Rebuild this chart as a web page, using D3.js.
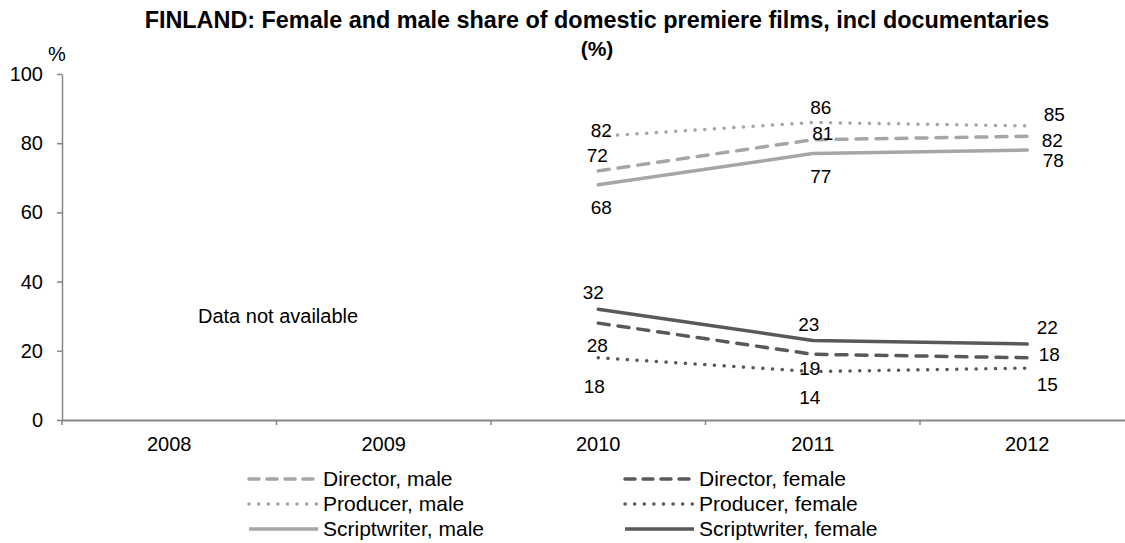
<!DOCTYPE html>
<html lang="en">
<head>
    <meta charset="UTF-8">
    <title>FINLAND: Female and male share of domestic premiere films</title>
    <script src="https://d3js.org/d3.v7.min.js"></script>
    <style>
        body {
            margin: 0;
            padding: 0;
            background: #fff;
        }
        svg text {
            font-family: "Liberation Sans", Arial, sans-serif;
            fill: #000;
        }
    </style>
</head>
<body>
    <script>
        // categories and values
        const years = ["2008", "2009", "2010", "2011", "2012"];
        const dataYears = ["2010", "2011", "2012"];
        const yTicks = [0, 20, 40, 60, 80, 100];

        const directorMale = [72, 81, 82];
        const producerMale = [82, 86, 85];
        const scriptMale = [68, 77, 78];
        const directorFemale = [28, 19, 18];
        const producerFemale = [18, 14, 15];
        const scriptFemale = [32, 23, 22];

        const seriesNames = [
            "Director, male", "Director, female",
            "Producer, male", "Producer, female",
            "Scriptwriter, male", "Scriptwriter, female"
        ];

        const width = 1125;
        const height = 543;

        const svg = d3.select("body")
            .append("svg")
            .attr("width", width)
            .attr("height", height);

        const x = d3.scaleBand()
            .domain(years)
            .range([62, 62 + 5 * 214.5]);

        const y = d3.scaleLinear()
            .domain([0, 100])
            .range([420, 74]);

        const light = "#a6a6a6";
        const dark = "#595959";
        const axisColor = "#868686";

        const dashed = "11 9";
        const dotted = "0.1 9.6";

        // line style for each series, plus label offsets (dx, dy) from the point
        const series = [
            { name: seriesNames[0], values: directorMale, color: light, dash: dashed,
              labels: [[-1, -9], [10, 0], [25, 11]] },
            { name: seriesNames[1], values: directorFemale, color: dark, dash: dashed,
              labels: [[-1, 29], [-3, 21], [22, 3]] },
            { name: seriesNames[2], values: producerMale, color: light, dash: dotted,
              labels: [[3, 1], [8, -8], [27, -5]] },
            { name: seriesNames[3], values: producerFemale, color: dark, dash: dotted,
              labels: [[-4, 35], [-3, 32], [20, 23]] },
            { name: seriesNames[4], values: scriptMale, color: light, dash: null,
              labels: [[3, 29], [8, 29], [26, 17]] },
            { name: seriesNames[5], values: scriptFemale, color: dark, dash: null,
              labels: [[-5, -10], [-4, -9], [20, -10]] }
        ];

        // title
        svg.append("text")
            .attr("x", 597)
            .attr("y", 28)
            .attr("text-anchor", "middle")
            .style("font-size", "23.4px")
            .style("font-weight", "bold")
            .text("FINLAND: Female and male share of domestic premiere films, incl documentaries");

        svg.append("text")
            .attr("x", 597)
            .attr("y", 56)
            .attr("text-anchor", "middle")
            .style("font-size", "21px")
            .style("font-weight", "bold")
            .text("(%)");

        svg.append("text")
            .attr("x", 57)
            .attr("y", 61)
            .attr("text-anchor", "middle")
            .style("font-size", "20px")
            .text("%");

        // y axis
        const yAxis = svg.append("g")
            .attr("transform", "translate(62,0)")
            .call(d3.axisLeft(y).tickValues(yTicks).tickSize(5).tickSizeOuter(0).tickPadding(14));

        yAxis.selectAll("path, line").attr("stroke", axisColor).attr("stroke-width", 1.5);
        yAxis.selectAll("text").style("font-size", "20px").attr("fill", "#000");

        // x axis
        const xAxis = svg.append("g")
            .attr("transform", "translate(0,420)")
            .call(d3.axisBottom(x).tickSize(0).tickSizeOuter(0).tickPadding(17));

        xAxis.select("path").attr("stroke", axisColor).attr("stroke-width", 2);
        xAxis.selectAll("text").style("font-size", "20px").attr("fill", "#000");

        const bounds = years.map(d => x(d)).concat([x.range()[1]]);
        svg.append("g")
            .selectAll("line")
            .data(bounds)
            .enter()
            .append("line")
            .attr("x1", d => d)
            .attr("x2", d => d)
            .attr("y1", 420)
            .attr("y2", 425)
            .attr("stroke", axisColor)
            .attr("stroke-width", 1.5);

        // note
        svg.append("text")
            .attr("x", 198)
            .attr("y", 323)
            .style("font-size", "20px")
            .text("Data not available");

        // lines
        const line = d3.line()
            .x((d, i) => x(dataYears[i]) + x.bandwidth() / 2)
            .y(d => y(d));

        series.forEach(s => {
            svg.append("path")
                .datum(s.values)
                .attr("fill", "none")
                .attr("stroke", s.color)
                .attr("stroke-width", 3.5)
                .attr("stroke-linecap", "round")
                .attr("stroke-linejoin", "round")
                .attr("stroke-dasharray", s.dash)
                .attr("d", line);
        });

        // data labels
        series.forEach(s => {
            svg.append("g")
                .selectAll("text")
                .data(s.values)
                .enter()
                .append("text")
                .attr("x", (d, i) => x(dataYears[i]) + x.bandwidth() / 2 + s.labels[i][0])
                .attr("y", (d, i) => y(d) + s.labels[i][1])
                .attr("text-anchor", "middle")
                .style("font-size", "19px")
                .text(d => d);
        });

        // legend, two columns
        const legend = svg.append("g");
        series.forEach((s, i) => {
            const col = i % 2;
            const row = Math.floor(i / 2);
            const lx = col === 0 ? 249 : 625;
            const ly = 479 + row * 25;
            legend.append("line")
                .attr("x1", lx)
                .attr("x2", lx + 69)
                .attr("y1", ly)
                .attr("y2", ly)
                .attr("stroke", s.color)
                .attr("stroke-width", 3.5)
                .attr("stroke-linecap", s.dash ? "round" : "butt")
                .attr("stroke-dasharray", s.dash === dashed ? "10 8" : s.dash === dotted ? "0.1 9.5" : null);
            legend.append("text")
                .attr("x", lx + 74)
                .attr("y", ly)
                .attr("dy", "0.35em")
                .style("font-size", "21px")
                .text(s.name);
        });
    </script>
</body>
</html>
